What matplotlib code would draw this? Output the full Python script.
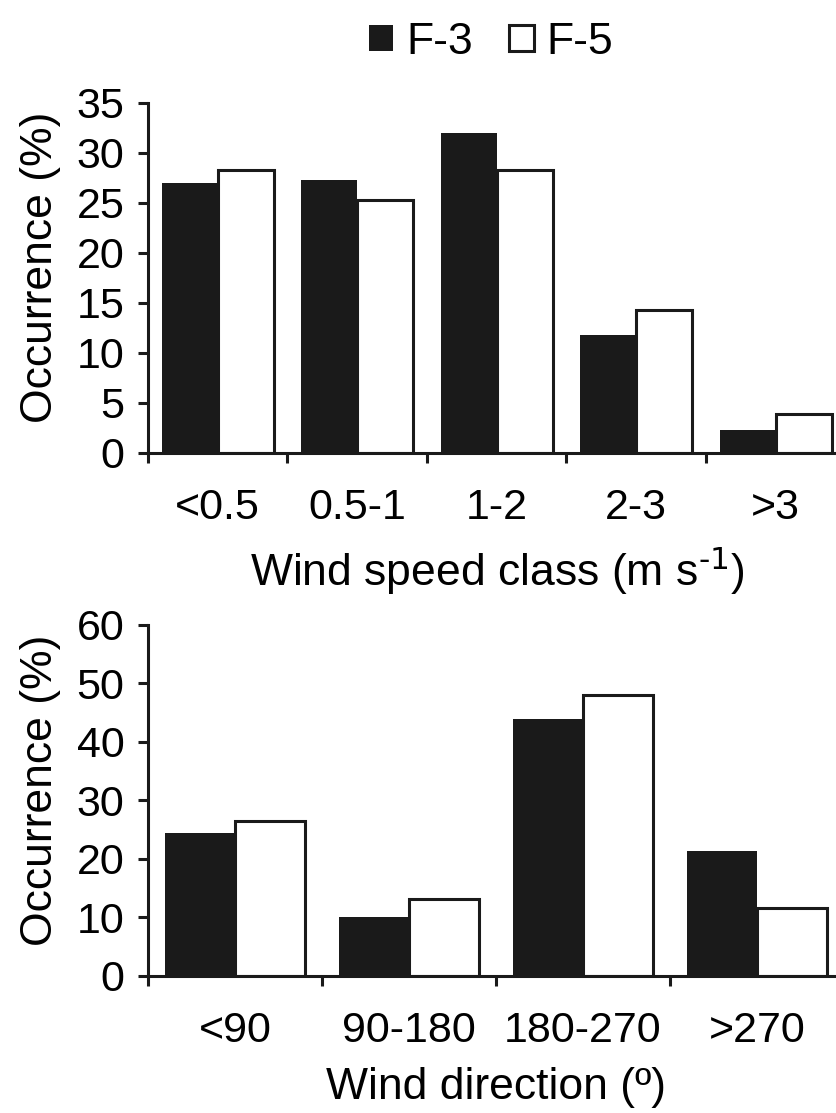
import numpy as np
import matplotlib
matplotlib.use("Agg")
import matplotlib.pyplot as plt
from matplotlib.patches import Patch

plt.rcParams['font.family'] = ['Liberation Sans', 'DejaVu Sans']

# wind speed classes
speed_cats = ['<0.5', '0.5-1', '1-2', '2-3', '>3']
speed_f3 = [27.0, 27.3, 32.0, 11.8, 2.3]
speed_f5 = [28.3, 25.3, 28.3, 14.3, 3.9]

# wind direction classes
dir_cats = ['<90', '90-180', '180-270', '>270']
dir_f3 = [24.4, 10.0, 43.9, 21.4]
dir_f5 = [26.5, 13.2, 48.1, 11.7]

series_names = ['F-3', 'F-5']

TFS = 31   # tick labels
LFS = 32   # axis labels
BLACK = '#1a1a1a'
LW = 2.2
w = 0.4

fig = plt.figure(figsize=(8.37, 11.13), dpi=100)
ax1 = fig.add_axes([0.1768, 0.593, 0.8333, 0.3145])
ax2 = fig.add_axes([0.1768, 0.1231, 0.8316, 0.3154])


def draw(ax, cats, f3, f5, ymax, ystep, xlabel):
    x = np.arange(len(cats))
    ax.bar(x - w / 2, f3, w, color=BLACK, edgecolor=BLACK, linewidth=0)
    ax.bar(x + w / 2, f5, w, color='white', edgecolor=BLACK, linewidth=LW)
    ax.set_xlim(-0.5, len(cats) - 0.5)
    ax.set_ylim(0, ymax)
    ax.set_yticks(np.arange(0, ymax + 1, ystep))
    for s in ['top', 'right']:
        ax.spines[s].set_visible(False)
    for s in ['left', 'bottom']:
        ax.spines[s].set_linewidth(LW)
        ax.spines[s].set_color(BLACK)
    # boundary ticks without labels, labels at category centres
    ax.set_xticks(np.arange(-0.5, len(cats), 1.0))
    ax.set_xticklabels([])
    ax.set_xticks(x, minor=True)
    ax.set_xticklabels(cats, minor=True, fontsize=TFS)
    ax.tick_params(axis='x', which='major', direction='out', length=7,
                   width=LW, color=BLACK)
    ax.tick_params(axis='x', which='minor', length=0, pad=25)
    ax.tick_params(axis='y', direction='out', length=7, width=LW,
                   color=BLACK, labelsize=TFS, pad=10)
    ax.set_ylabel('Occurrence (%)', fontsize=LFS)
    ax.yaxis.set_label_coords(-0.125, 0.53)
    ax.set_xlabel(xlabel, fontsize=LFS, labelpad=12)


draw(ax1, speed_cats, speed_f3, speed_f5, 35, 5,
     'Wind speed class (m s$^{\\text{-1}}$)')
draw(ax2, dir_cats, dir_f3, dir_f5, 60, 10, 'Wind direction (º)')

handles = [Patch(facecolor=BLACK, edgecolor=BLACK, linewidth=0),
           Patch(facecolor='white', edgecolor=BLACK, linewidth=LW)]
fig.legend(handles, series_names, loc='center', bbox_to_anchor=(0.587, 0.962),
           ncol=2, frameon=False, fontsize=LFS, handlelength=0.55,
           handleheight=0.55, handletextpad=0.3, columnspacing=0.8)

fig.savefig('out.png', dpi=100)
